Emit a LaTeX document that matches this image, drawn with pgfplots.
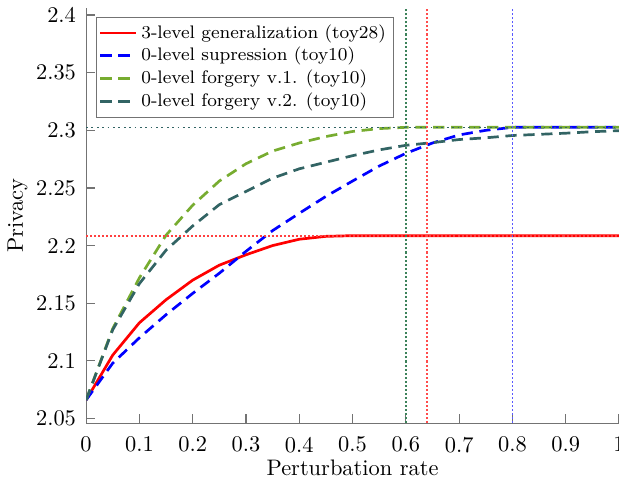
\documentclass[border=0pt]{standalone}
\usepackage{pgfplots}
\pgfplotsset{compat=1.18}
\definecolor{mred}{RGB}{255,0,0}
\definecolor{mblue}{RGB}{0,0,255}
\definecolor{mgreen}{RGB}{119,172,48}
\definecolor{mteal}{RGB}{50,100,100}
\definecolor{vgreen}{RGB}{60,130,90}

\begin{document}
\begin{tikzpicture}[trim axis right]
\begin{axis}[
    scale only axis,
    width=237.6pt,
    height=185pt,
    xmin=0, xmax=1,
    ymin=2.046, ymax=2.406,
    xtick={0,0.1,...,1.01},
    ytick={2.05,2.1,2.15,2.2,2.25,2.3,2.35,2.4},
    yticklabels={2.05,2.1,2.15,2.2,2.25,2.3,2.35,2.4},
    xticklabels={0,0.1,0.2,0.3,0.4,0.5,0.6,0.7,0.8,0.9,1},
    xticklabel shift=2.7pt,
    yticklabel shift=1pt,
    axis lines=left,
    axis line style={-, black!55, line width=0.5pt},
    tick style={black!55, line width=0.5pt},
    major tick length=4pt,
    tick align=inside,
    xlabel={Perturbation rate},
    ylabel={Privacy},
    xlabel shift=-3.8pt,
    ylabel shift=-3pt,
    legend cell align=left,
    legend style={at={(0,1)}, anchor=north west, xshift=4.4pt, yshift=-3.9pt,
        draw=black!55, fill=white, font=\fontsize{8.1}{10}\selectfont,
        row sep=-1.4pt, inner sep=1.2pt},
    legend image code/.code={\draw[#1] (-0.05cm,0cm) -- (0.5cm,0cm);},
    guide/.style={forget plot, line width=0.8pt, dash pattern=on 0.9pt off 0.9pt},
]
% red: 3-level generalization
\addplot[mred, line width=1.2pt] coordinates {
(0,2.066) (0.05,2.105) (0.1,2.133) (0.15,2.153) (0.2,2.170) (0.25,2.183)
(0.3,2.192) (0.35,2.200) (0.4,2.2055) (0.45,2.208) (0.5,2.2086) (0.55,2.2086)
(0.6,2.2086) (0.65,2.2086) (0.7,2.2086) (0.75,2.2086) (0.8,2.2086) (0.85,2.2086)
(0.9,2.2086) (0.95,2.2086) (1,2.2086)};
% blue: 0-level supression
\addplot[mblue, line width=1.2pt, dash pattern=on 5pt off 3pt] coordinates {
(0,2.066) (0.05,2.098) (0.1,2.120) (0.15,2.140) (0.2,2.1585) (0.25,2.176)
(0.3,2.195) (0.35,2.213) (0.4,2.228) (0.45,2.2427) (0.5,2.256) (0.55,2.269)
(0.6,2.280) (0.65,2.289) (0.7,2.296) (0.75,2.300) (0.8,2.3026) (0.85,2.3026)
(0.9,2.3026) (0.95,2.3026) (1,2.3026)};
% green: 0-level forgery v.1.
\addplot[mgreen, line width=1.2pt, dash pattern=on 5pt off 3pt] coordinates {
(0,2.066) (0.05,2.128) (0.1,2.172) (0.15,2.209) (0.2,2.235) (0.25,2.256)
(0.3,2.271) (0.35,2.282) (0.4,2.289) (0.45,2.2946) (0.5,2.299) (0.55,2.3015)
(0.6,2.3026) (0.65,2.3026) (0.7,2.3026) (0.75,2.3026) (0.8,2.3026) (0.85,2.3026)
(0.9,2.3026) (0.95,2.3026) (1,2.3026)};
% teal: 0-level forgery v.2.
\addplot[mteal, line width=1.2pt, dash pattern=on 5pt off 3pt] coordinates {
(0,2.066) (0.05,2.127) (0.1,2.167) (0.15,2.196) (0.2,2.217) (0.25,2.2355)
(0.3,2.247) (0.35,2.2585) (0.4,2.2666) (0.45,2.2723) (0.5,2.278) (0.55,2.283)
(0.6,2.287) (0.65,2.2893) (0.7,2.292) (0.75,2.2935) (0.8,2.2955) (0.85,2.2965)
(0.9,2.2975) (0.95,2.2988) (1,2.2997)};
\legend{3-level generalization (toy28), 0-level supression (toy10),
        0-level forgery v.1. (toy10), 0-level forgery v.2. (toy10)}
% dotted guide lines
\addplot[guide, red!75] coordinates {(0,2.2086) (1,2.2086)};
\addplot[guide, mteal, line width=0.6pt, dash pattern=on 0.8pt off 1.6pt] coordinates {(0,2.3026) (1,2.3026)};
\addplot[guide, vgreen] coordinates {(0.6,2.046) (0.6,2.406)};
\addplot[guide, red!70] coordinates {(0.64,2.046) (0.64,2.406)};
\addplot[guide, blue!65] coordinates {(0.8,2.046) (0.8,2.406)};
\end{axis}
\path ([yshift=3.1pt]current axis.north);
\end{tikzpicture}
\end{document}
